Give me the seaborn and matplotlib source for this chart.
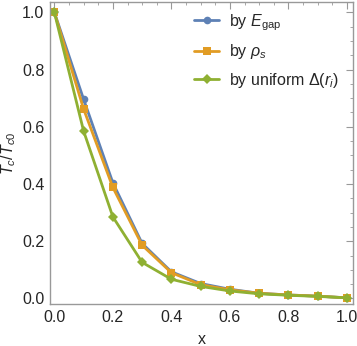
import matplotlib
matplotlib.use("Agg")
import matplotlib.pyplot as plt
from matplotlib.ticker import MultipleLocator
import seaborn as sns
import pandas as pd

# 掺杂浓度 x 与归一化 Tc
x = [0.0, 0.1, 0.2, 0.3, 0.4, 0.5, 0.6, 0.7, 0.8, 0.9, 1.0]
tc_gap = [1.0, 0.696, 0.404, 0.192, 0.093, 0.052, 0.032, 0.018, 0.012, 0.008, 0.002]
tc_rho = [1.0, 0.662, 0.388, 0.186, 0.090, 0.048, 0.030, 0.018, 0.012, 0.008, 0.002]
tc_uniform = [1.0, 0.585, 0.285, 0.126, 0.067, 0.042, 0.026, 0.016, 0.011, 0.007, 0.002]

labels = [r"by $E_{\rm gap}$", r"by $\rho_s$", r"by uniform $\Delta(r_i)$"]
colors = ["#5E81B5", "#E19C24", "#8FB032"]
markers = ["o", "s", "D"]

df = pd.DataFrame({
    "x": x * 3,
    "tc": tc_gap + tc_rho + tc_uniform,
    "method": [labels[0]] * len(x) + [labels[1]] * len(x) + [labels[2]] * len(x),
})

sns.set_style("white")
plt.rcParams["font.family"] = ["Liberation Sans", "DejaVu Sans"]
plt.rcParams["mathtext.fontset"] = "custom"
plt.rcParams["mathtext.rm"] = "Liberation Sans"
plt.rcParams["mathtext.it"] = "Liberation Sans:italic"

fig = plt.figure(figsize=(3.57, 3.46), dpi=100)
ax = fig.add_axes([0.140, 0.121, 0.849, 0.873])

sns.lineplot(data=df, x="x", y="tc", hue="method", style="method",
             palette=dict(zip(labels, colors)), markers=dict(zip(labels, markers)),
             dashes=False, linewidth=2, markersize=5.5, markeredgewidth=0,
             ax=ax)

ax.set_xlim(-0.015, 1.021)
ax.set_ylim(-0.02, 1.036)
ax.xaxis.set_major_locator(MultipleLocator(0.2))
ax.xaxis.set_minor_locator(MultipleLocator(0.05))
ax.yaxis.set_major_locator(MultipleLocator(0.2))
ax.yaxis.set_minor_locator(MultipleLocator(0.05))
ax.tick_params(which="both", direction="in", top=True, right=True,
               color="#999999", labelsize=11.5, pad=4)
ax.tick_params(which="major", length=5, width=0.8)
ax.tick_params(which="minor", length=2.5, width=0.6)
for s in ax.spines.values():
    s.set_color("#999999")
    s.set_linewidth(1)

ax.set_xlabel("x", fontsize=11.5, labelpad=5)
ax.set_ylabel(r"$T_c/T_{c0}$", fontsize=11.5, labelpad=3)

leg = ax.legend(loc="upper right", frameon=False, fontsize=11.5,
                handlelength=1.6, handletextpad=0.6, labelspacing=0.6,
                bbox_to_anchor=(1.0, 1.015))

fig.savefig("out.png", dpi=100)
